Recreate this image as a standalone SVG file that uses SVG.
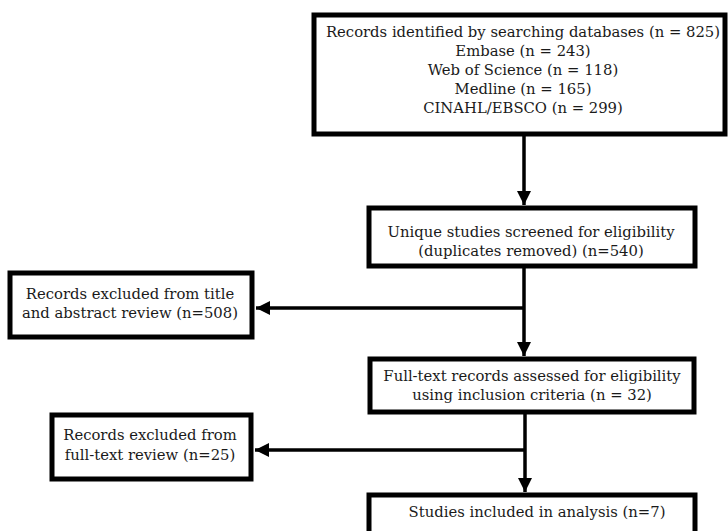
<svg xmlns="http://www.w3.org/2000/svg" width="728" height="531" viewBox="0 0 728 531">
<defs>
<marker id="arr" viewBox="0 0 14 14" refX="14" refY="7" markerWidth="14" markerHeight="14" orient="auto" markerUnits="userSpaceOnUse">
<path d="M0,0 L14,7 L0,14 Z" fill="#000"/>
</marker>
</defs>
<style>
.box{fill:#fff;stroke:#000;stroke-width:5}
.t{font-family:"DejaVu Serif","Liberation Serif",serif;font-size:14.8px;fill:#1a1a1a;text-anchor:middle}
.c{stroke:#000;stroke-width:3.5;fill:none}
</style>
<rect width="728" height="531" fill="#fff"/>
<g id="connectors">
<line class="c" x1="524" y1="136" x2="524" y2="205" marker-end="url(#arr)"/>
<line class="c" x1="524" y1="268" x2="524" y2="356" marker-end="url(#arr)"/>
<line class="c" x1="524" y1="308" x2="256" y2="308" marker-end="url(#arr)"/>
<line class="c" x1="525" y1="414" x2="525" y2="492" marker-end="url(#arr)"/>
<line class="c" x1="525" y1="450" x2="255" y2="450" marker-end="url(#arr)"/>
</g>
<g id="n1">
<rect class="box" x="314" y="15" width="411" height="119"/>
<text class="t" x="523" y="37">Records identified by searching databases (n = 825)</text>
<text class="t" x="523" y="56">Embase (n = 243)</text>
<text class="t" x="523" y="75">Web of Science (n = 118)</text>
<text class="t" x="523" y="94">Medline (n = 165)</text>
<text class="t" x="523" y="112.5">CINAHL/EBSCO (n = 299)</text>
</g>
<g id="n2">
<rect class="box" x="369" y="208" width="326" height="58"/>
<text class="t" x="531" y="237">Unique studies screened for eligibility</text>
<text class="t" x="531" y="255.5">(duplicates removed) (n=540)</text>
</g>
<g id="n3">
<rect class="box" x="10" y="273" width="242" height="64"/>
<text class="t" x="130" y="299">Records excluded from title</text>
<text class="t" x="130" y="318">and abstract review (n=508)</text>
</g>
<g id="n4">
<rect class="box" x="370" y="359" width="324" height="53"/>
<text class="t" x="532" y="381">Full-text records assessed for eligibility</text>
<text class="t" x="532" y="399.5">using inclusion criteria (n = 32)</text>
</g>
<g id="n5">
<rect class="box" x="52" y="415" width="199" height="64"/>
<text class="t" x="150" y="440">Records excluded from</text>
<text class="t" x="150" y="459.5">full-text review (n=25)</text>
</g>
<g id="n6">
<rect class="box" x="369" y="495" width="326" height="45"/>
<text class="t" x="537" y="516.5">Studies included in analysis (n=7)</text>
</g>
</svg>
